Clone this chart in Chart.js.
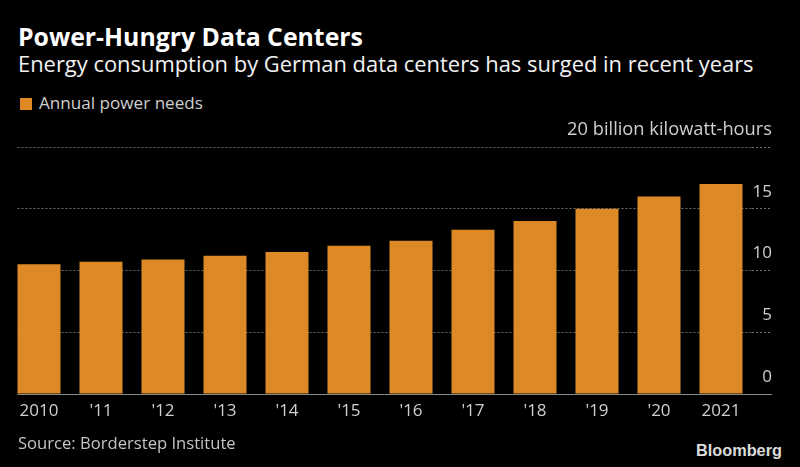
<!DOCTYPE html>
<html>
<head>
<meta charset="utf-8">
<script src="https://cdn.jsdelivr.net/npm/chart.js@4/dist/chart.umd.min.js"></script>
<style>
  html, body { margin: 0; padding: 0; background: #000; }
  body { width: 800px; height: 467px; position: relative; overflow: hidden; font-family: "Open Sans", sans-serif; }
  .t { position: absolute; white-space: nowrap; line-height: 1; }
  #title { font-weight: bold; color: #fff; }
  #subtitle { color: #f2f2f2; }
  #legendText { color: #cfcfcf; }
  #source { color: #c4c4c4; }
  #logo { font-family: "Liberation Sans", Arial, sans-serif; font-weight: bold; color: #dcdcdc; }
  #legendBox { position: absolute; left: 20px; top: 98px; width: 12px; height: 12px; background: #dd8a26; }
  #wrap { position: absolute; left: 0; top: 115px; width: 800px; height: 320px; }
</style>
</head>
<body>
<div id="title" class="t">Power-Hungry Data Centers</div>
<div id="subtitle" class="t">Energy consumption by German data centers has surged in recent years</div>
<div id="legendBox"></div>
<div id="legendText" class="t">Annual power needs</div>
<div id="wrap"><canvas id="c" width="800" height="320"></canvas></div>
<div id="source" class="t">Source: Borderstep Institute</div>
<div id="logo" class="t">Bloomberg</div>
<script>
// ---- data ----
const categories = ["2010", "'11", "'12", "'13", "'14", "'15", "'16", "'17", "'18", "'19", "'20", "2021"];
const powerNeeds = [10.5, 10.7, 10.9, 11.2, 11.5, 12.0, 12.4, 13.3, 14.0, 15.0, 16.0, 17.0];
const yTickValues = [0, 5, 10, 15, 20];
const yTopLabel = "20 billion kilowatt-hours";
const seriesName = "Annual power needs";

// ---- header text fitting ----
function place(id, left, baseline, width, ascentRatio) {
  const el = document.getElementById(id);
  el.style.fontSize = '20px';
  el.style.left = left + 'px';
  const w = el.getBoundingClientRect().width;
  const size = 20 * width / w;
  el.style.fontSize = size.toFixed(2) + 'px';
  el.style.top = (baseline - ascentRatio * size).toFixed(2) + 'px';
}
const OS = 0.888; // Open Sans baseline offset with line-height 1
place('title', 18, 45.7, 345, OS);
place('subtitle', 18, 72.7, 736, OS);
place('legendText', 39, 109.3, 164, OS);
place('source', 18, 450, 218, OS);
place('logo', 696, 456, 86, 0.87);

// ---- chart ----
const gridGray = '#6f6f6f';
const axisGray = '#8a8a8a';
const labelColor = '#cfcfcf';
const isZero = (ctx) => ctx.tick && ctx.tick.value === 0;

// grid lines start at the left edge of the first bar, as in the reference
const gridStart = {
  id: 'gridStart',
  afterLayout(chart) {
    const x = chart.scales.x;
    const firstBarLeft = x.getPixelForValue(0) - (x.width / categories.length) * (43 / 62) / 2;
    chart.chartArea.left = firstBarLeft;
    chart.chartArea.width = chart.chartArea.right - firstBarLeft;
  }
};

new Chart(document.getElementById('c'), {
  type: 'bar',
  data: {
    labels: categories,
    datasets: [{
      label: seriesName,
      data: powerNeeds,
      backgroundColor: '#dd8a26',
      borderWidth: 0,
      barPercentage: 43 / 62,
      categoryPercentage: 1.0
    }]
  },
  plugins: [gridStart],
  options: {
    responsive: false,
    animation: false,
    devicePixelRatio: 1,
    layout: { padding: { left: 8, right: 28, top: 32, bottom: 0 } },
    plugins: { legend: { display: false }, tooltip: { enabled: false } },
    scales: {
      x: {
        offset: true,
        grid: { display: false, drawTicks: false },
        border: { display: false },
        ticks: {
          color: labelColor,
          font: { family: 'Open Sans', size: 17 },
          padding: 7,
          maxRotation: 0,
          autoSkip: false
        },
        afterFit: (s) => { s.height = 41; }
      },
      y: {
        position: 'right',
        min: 0,
        max: 20,
        afterBuildTicks: (s) => { s.ticks = yTickValues.map(v => ({ value: v })); },
        grid: {
          color: (ctx) => isZero(ctx) ? axisGray : gridGray,
          lineWidth: 1,
          drawTicks: true,
          tickLength: 20,
          tickColor: (ctx) => isZero(ctx) ? axisGray : gridGray,
          tickBorderDash: (ctx) => isZero(ctx) ? [] : [2, 2]
        },
        border: { display: false, dash: (ctx) => isZero(ctx) ? [] : [2, 2] },
        ticks: {
          color: labelColor,
          font: (ctx) => ({ family: 'Open Sans', size: (ctx.tick && ctx.tick.value === 20) ? 18.3 : 17 }),
          mirror: true,
          crossAlign: 'near',
          padding: 20,
          labelOffset: -17,
          callback: (v) => v === 20 ? yTopLabel : String(v)
        },
        afterFit: (s) => { s.width = 20; }
      }
    }
  }
});
</script>
</body>
</html>
